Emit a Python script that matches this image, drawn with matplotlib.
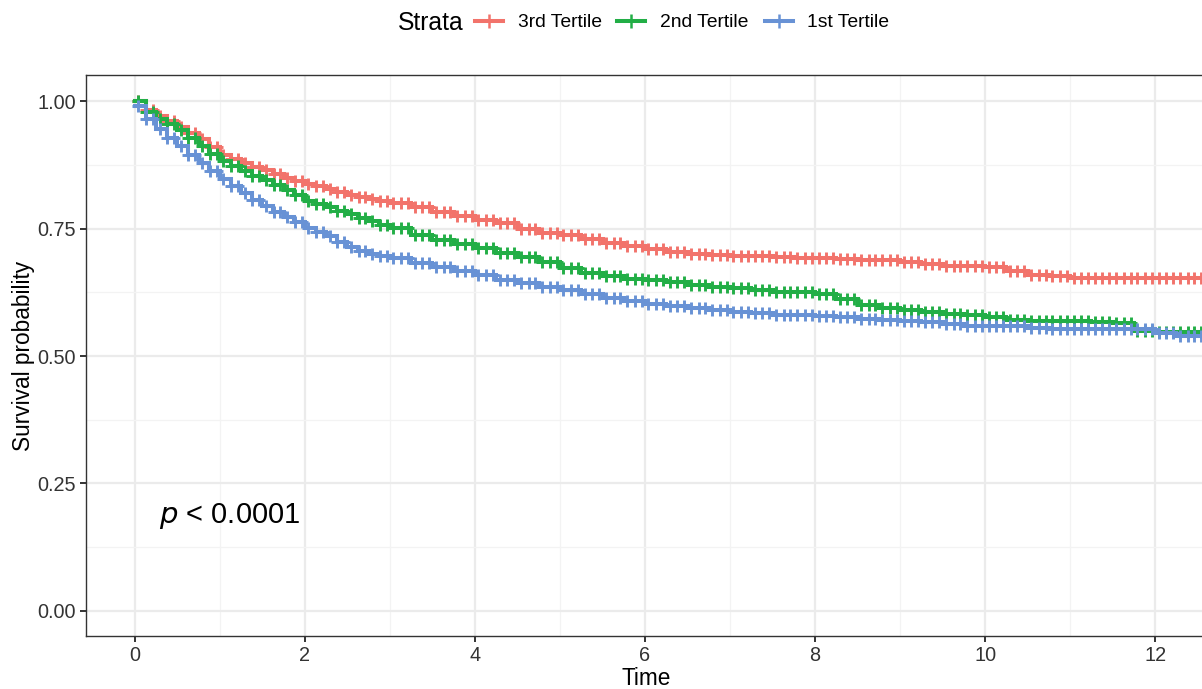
import matplotlib

matplotlib.use("Agg")
import matplotlib.pyplot as plt
from matplotlib.lines import Line2D
import numpy as np

# Kaplan-Meier estimates (finer sampling where the curves fall fast)
TIMES = [
    0.0, 0.125, 0.25, 0.375, 0.5, 0.625, 0.75, 0.875,
    1.0, 1.125, 1.25, 1.375, 1.5, 1.625, 1.75, 1.875,
    2.0, 2.125, 2.25, 2.375, 2.5, 2.625, 2.75, 2.875,
    3.0, 3.25, 3.5, 3.75, 4.0, 4.25, 4.5, 4.75,
    5.0, 5.25, 5.5, 5.75, 6.0, 6.25, 6.5, 6.75,
    7.0, 7.25, 7.5, 7.75, 8.0, 8.25, 8.5, 8.75,
    9.0, 9.25, 9.5, 9.75, 10.0, 10.25, 10.5, 10.75,
    11.0, 11.25, 11.5, 11.75, 12.0, 12.25, 12.6,
]

SURV_3RD = [
    1.000, 0.982, 0.970, 0.960, 0.950, 0.938, 0.925, 0.910,
    0.895, 0.886, 0.878, 0.871, 0.864, 0.857, 0.850, 0.844,
    0.838, 0.833, 0.828, 0.822, 0.816, 0.812, 0.808, 0.804,
    0.800, 0.792, 0.783, 0.774, 0.767, 0.760, 0.750, 0.742,
    0.737, 0.730, 0.722, 0.715, 0.710, 0.705, 0.701, 0.698,
    0.697, 0.696, 0.694, 0.693, 0.692, 0.690, 0.689, 0.688,
    0.685, 0.680, 0.677, 0.676, 0.674, 0.666, 0.659, 0.656,
    0.653, 0.653, 0.653, 0.653, 0.653, 0.653, 0.653,
]

SURV_2ND = [
    1.000, 0.978, 0.965, 0.955, 0.943, 0.928, 0.912, 0.897,
    0.882, 0.872, 0.862, 0.854, 0.846, 0.835, 0.825, 0.815,
    0.805, 0.798, 0.792, 0.785, 0.778, 0.771, 0.764, 0.757,
    0.751, 0.738, 0.728, 0.720, 0.712, 0.703, 0.694, 0.684,
    0.672, 0.662, 0.656, 0.652, 0.649, 0.645, 0.640, 0.636,
    0.633, 0.629, 0.626, 0.625, 0.622, 0.612, 0.600, 0.594,
    0.590, 0.586, 0.583, 0.580, 0.577, 0.570, 0.569, 0.569,
    0.569, 0.567, 0.565, 0.550, 0.548, 0.548, 0.548,
]

SURV_1ST = [
    0.990, 0.965, 0.945, 0.928, 0.912, 0.895, 0.878, 0.862,
    0.848, 0.834, 0.820, 0.807, 0.795, 0.783, 0.772, 0.762,
    0.752, 0.744, 0.735, 0.724, 0.714, 0.706, 0.700, 0.696,
    0.692, 0.682, 0.674, 0.666, 0.659, 0.650, 0.643, 0.636,
    0.630, 0.622, 0.613, 0.607, 0.603, 0.598, 0.594, 0.590,
    0.587, 0.584, 0.581, 0.580, 0.579, 0.576, 0.573, 0.571,
    0.569, 0.566, 0.562, 0.559, 0.558, 0.558, 0.555, 0.554,
    0.553, 0.553, 0.553, 0.553, 0.545, 0.540, 0.539,
]

# censoring times (the "+" marks), roughly evenly spread along follow-up
CENSOR_TIMES = [
    0.04, 0.13, 0.21, 0.29, 0.38, 0.46, 0.54, 0.63, 0.71, 0.79, 0.88, 0.96,
    1.04, 1.13, 1.21, 1.29, 1.38, 1.46, 1.54, 1.63, 1.71, 1.79, 1.88, 1.96,
    2.04, 2.13, 2.21, 2.29, 2.38, 2.46, 2.54, 2.63, 2.71, 2.79, 2.88, 2.96,
    3.04, 3.13, 3.21, 3.29, 3.38, 3.46, 3.54, 3.63, 3.71, 3.79, 3.88, 3.96,
    4.04, 4.13, 4.21, 4.29, 4.38, 4.46, 4.54, 4.63, 4.71, 4.79, 4.88, 4.96,
    5.04, 5.13, 5.21, 5.29, 5.38, 5.46, 5.54, 5.63, 5.71, 5.79, 5.88, 5.96,
    6.04, 6.13, 6.21, 6.29, 6.38, 6.46, 6.54, 6.63, 6.71, 6.79, 6.88, 6.96,
    7.04, 7.13, 7.21, 7.29, 7.38, 7.46, 7.54, 7.63, 7.71, 7.79, 7.88, 7.96,
    8.04, 8.13, 8.21, 8.29, 8.38, 8.46, 8.54, 8.63, 8.71, 8.79, 8.88, 8.96,
    9.04, 9.13, 9.21, 9.29, 9.38, 9.46, 9.54, 9.63, 9.71, 9.79, 9.88, 9.96,
    10.04, 10.13, 10.21, 10.29, 10.38, 10.46, 10.54, 10.63, 10.71, 10.79, 10.88, 10.96,
    11.04, 11.13, 11.21, 11.29, 11.38, 11.46, 11.54, 11.63, 11.71, 11.79, 11.88, 11.96,
    12.04, 12.13, 12.21, 12.29, 12.38, 12.46, 12.54,
]

STRATA = ["3rd Tertile", "2nd Tertile", "1st Tertile"]
COLORS = {
    "3rd Tertile": "#F2736B",
    "2nd Tertile": "#22AE46",
    "1st Tertile": "#6892D5",
}
P_LABEL = "< 0.0001"

GRID_MAJOR = "#EBEBEB"
GRID_MINOR = "#F3F3F3"
INK = "#333333"


def surv_at(times, surv, t):
    idx = np.searchsorted(times, t, side="right") - 1
    return np.asarray(surv)[idx]


def main() -> None:
    plt.rcParams.update(
        {
            "font.family": ["Liberation Sans", "DejaVu Sans"],
            "font.size": 14,
        }
    )
    fig = plt.figure(figsize=(12.02, 6.89), dpi=100)
    ax = fig.add_axes([0.0715, 0.077, 0.932, 0.814])

    series = {
        "3rd Tertile": SURV_3RD,
        "2nd Tertile": SURV_2ND,
        "1st Tertile": SURV_1ST,
    }
    times = np.asarray(TIMES)
    censor = np.asarray(CENSOR_TIMES)
    for name in STRATA:
        surv = series[name]
        color = COLORS[name]
        ax.step(times, surv, where="post", color=color, linewidth=2.9, zorder=3,
                solid_joinstyle="miter")
        ax.plot(censor, surv_at(times, surv, censor), linestyle="none", marker="+",
                markersize=9, markeredgewidth=2.1, color=color, zorder=3)

    ax.text(0.28, 0.172, "$p$ " + P_LABEL, fontsize=21, ha="left", va="baseline",
            color="black", zorder=4)

    ax.set_xlim(-0.576, 12.6)
    ax.set_ylim(-0.049, 1.051)
    ax.set_xticks([0, 2, 4, 6, 8, 10, 12])
    ax.set_xticks([1, 3, 5, 7, 9, 11], minor=True)
    ax.set_yticks([0, 0.25, 0.5, 0.75, 1.0])
    ax.set_yticklabels(["0.00", "0.25", "0.50", "0.75", "1.00"])
    ax.set_yticks([0.125, 0.375, 0.625, 0.875], minor=True)
    ax.grid(which="major", color=GRID_MAJOR, linewidth=1.6, zorder=0)
    ax.grid(which="minor", color=GRID_MINOR, linewidth=0.9, zorder=0)
    ax.set_axisbelow(True)
    ax.tick_params(which="major", length=4, width=1.4, color=INK, labelcolor=INK,
                   labelsize=14.3, pad=3)
    ax.tick_params(which="minor", length=0)
    for spine in ax.spines.values():
        spine.set_color(INK)
        spine.set_linewidth(1.0)

    ax.set_xlabel("Time", fontsize=16.3, labelpad=2)
    ax.set_ylabel("Survival probability", fontsize=16.3, labelpad=2)

    handles = [
        Line2D([0], [0], color=COLORS[name], linewidth=2.9, marker="+",
               markersize=10, markeredgewidth=1.8)
        for name in STRATA
    ]
    fig.text(0.331, 0.967, "Strata", fontsize=17.8, ha="left", va="center")
    fig.legend(handles, STRATA, loc="center left", bbox_to_anchor=(0.395, 0.967),
               ncol=3, frameon=False, fontsize=13.9, handlelength=1.45,
               handletextpad=0.77, columnspacing=0.82, borderaxespad=0, borderpad=0)

    fig.savefig("out.png", dpi=100)
    plt.close(fig)


if __name__ == "__main__":
    main()
